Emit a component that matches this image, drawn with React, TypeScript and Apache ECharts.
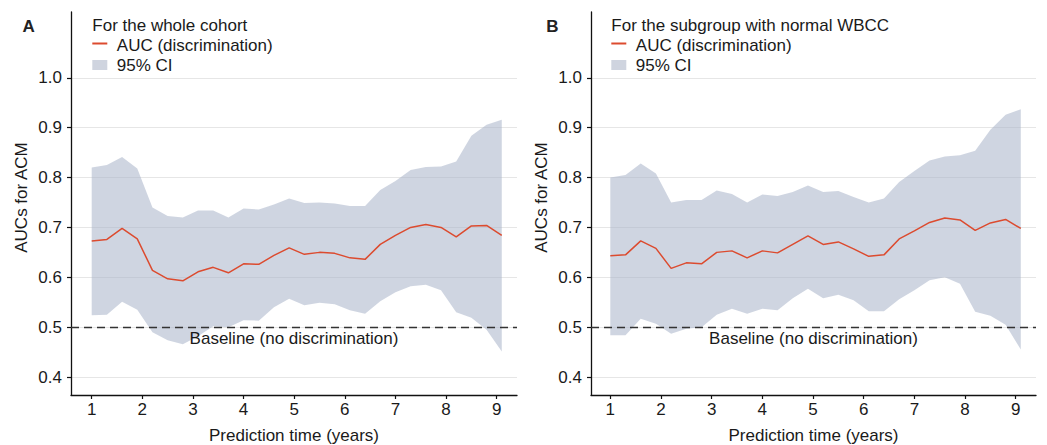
import React, { useEffect, useRef } from "react";
import * as echarts from "echarts";

const years = [1.0, 1.3, 1.6, 1.9, 2.2, 2.5, 2.8, 3.1, 3.4, 3.7, 4.0, 4.3, 4.6, 4.9, 5.2, 5.5, 5.8, 6.1, 6.4, 6.7, 7.0, 7.3, 7.6, 7.9, 8.2, 8.5, 8.8, 9.1];

const aucA = [0.673, 0.676, 0.698, 0.677, 0.614, 0.597, 0.593, 0.611, 0.620, 0.609, 0.627, 0.626, 0.644, 0.659, 0.646, 0.650, 0.648, 0.639, 0.636, 0.666, 0.684, 0.700, 0.706, 0.700, 0.681, 0.703, 0.704, 0.684];
const upperA = [0.820, 0.825, 0.841, 0.818, 0.740, 0.723, 0.720, 0.734, 0.734, 0.720, 0.738, 0.736, 0.746, 0.758, 0.749, 0.750, 0.748, 0.743, 0.743, 0.775, 0.793, 0.815, 0.821, 0.822, 0.832, 0.884, 0.906, 0.916];
const lowerA = [0.524, 0.525, 0.551, 0.535, 0.490, 0.474, 0.466, 0.482, 0.502, 0.500, 0.514, 0.513, 0.540, 0.557, 0.544, 0.549, 0.546, 0.534, 0.527, 0.552, 0.570, 0.582, 0.585, 0.574, 0.530, 0.519, 0.495, 0.451];

const aucB = [0.643, 0.645, 0.673, 0.658, 0.618, 0.629, 0.627, 0.650, 0.653, 0.639, 0.653, 0.649, 0.666, 0.683, 0.666, 0.671, 0.657, 0.642, 0.645, 0.677, 0.693, 0.710, 0.719, 0.715, 0.694, 0.709, 0.716, 0.698];
const upperB = [0.800, 0.805, 0.828, 0.808, 0.750, 0.755, 0.755, 0.774, 0.767, 0.750, 0.766, 0.763, 0.771, 0.784, 0.771, 0.773, 0.761, 0.750, 0.758, 0.791, 0.813, 0.834, 0.842, 0.845, 0.854, 0.896, 0.926, 0.937];
const lowerB = [0.484, 0.484, 0.517, 0.507, 0.487, 0.497, 0.500, 0.525, 0.537, 0.527, 0.537, 0.534, 0.558, 0.577, 0.558, 0.565, 0.554, 0.532, 0.532, 0.556, 0.574, 0.594, 0.600, 0.587, 0.531, 0.523, 0.505, 0.455];

const xTicks = [1, 2, 3, 4, 5, 6, 7, 8, 9];
const yTicks = [0.4, 0.5, 0.6, 0.7, 0.8, 0.9, 1.0];

const panelLetters = ["A", "B"];
const panelTitles = ["For the whole cohort", "For the subgroup with normal WBCC"];
const legendLine = "AUC (discrimination)";
const legendBand = "95% CI";
const yTitle = "AUCs for ACM";
const xTitle = "Prediction time (years)";
const baselineLabel = "Baseline (no discrimination)";
const baselineValue = 0.5;

const FONT = "'Liberation Sans', Arial, Helvetica, sans-serif";
const TXT = "#1a1a1a";
const RED = "#dc4b2f";
const BAND = "rgba(168,178,200,0.55)";

export default function App() {
  const ref = useRef<HTMLDivElement>(null);
  useEffect(() => {
    if (!ref.current) return;
    const chart = echarts.init(ref.current, null, { renderer: "svg" });

    const panels = [
      { left: 71, width: 446, xmin: 0.591, xmax: 9.401, auc: aucA, up: upperA, lo: lowerA },
      { left: 591, width: 445, xmin: 0.619, xmax: 9.4, auc: aucB, up: upperB, lo: lowerB },
    ];

    const grid = panels.map((p) => ({ left: p.left, width: p.width, top: 12, height: 383 }));
    const xAxis = panels.map((p, i) => ({
      type: "value",
      gridIndex: i,
      min: p.xmin,
      max: p.xmax,
      axisLine: { show: true, onZero: false, lineStyle: { color: "#111", width: 1.3 } },
      axisTick: { show: true, length: 4, customValues: xTicks, lineStyle: { color: "#111", width: 1.2 } },
      axisLabel: { customValues: xTicks, margin: 6, fontSize: 17, color: TXT, fontFamily: FONT },
      splitLine: { show: false },
    }));
    const yAxis = panels.map((p, i) => ({
      type: "value",
      gridIndex: i,
      min: 0.364,
      max: 1.132,
      axisLine: { show: true, lineStyle: { color: "#111", width: 1.3 } },
      axisTick: { show: true, length: 4, customValues: yTicks, lineStyle: { color: "#111", width: 1.2 } },
      axisLabel: {
        customValues: yTicks,
        margin: 9,
        fontSize: 17,
        color: TXT,
        fontFamily: FONT,
        formatter: (v: number) => v.toFixed(1),
      },
      splitLine: { show: true, lineStyle: { color: "#e6e6e6", width: 1 } },
    }));

    const series: any[] = [];
    panels.forEach((p, i) => {
      series.push({
        type: "custom",
        xAxisIndex: i,
        yAxisIndex: i,
        silent: true,
        z: 1,
        encode: { x: 0, y: [1, 2] },
        data: years.map((x, k) => [x, p.lo[k], p.up[k]]),
        renderItem: (params: any, api: any) => {
          if (params.dataIndex !== 0) return null;
          const pts: number[][] = [];
          for (let k = 0; k < years.length; k++) pts.push(api.coord([years[k], p.up[k]]));
          for (let k = years.length - 1; k >= 0; k--) pts.push(api.coord([years[k], p.lo[k]]));
          return { type: "polygon", shape: { points: pts }, style: { fill: BAND } };
        },
      });
      series.push({
        type: "line",
        xAxisIndex: i,
        yAxisIndex: i,
        symbol: "none",
        z: 3,
        lineStyle: { color: RED, width: 1.5 },
        data: years.map((x, k) => [x, p.auc[k]]),
        markLine: {
          silent: true,
          symbol: ["none", "none"],
          lineStyle: { type: [8, 5], color: "#333", width: 1.3 },
          label: {
            show: true,
            position: "insideMiddleBottom",
            distance: 3,
            formatter: baselineLabel,
            fontSize: 17,
            color: TXT,
            fontFamily: FONT,
          },
          data: [{ yAxis: baselineValue }],
        },
      });
    });

    const legendX = [92.3, 611.3];
    const graphic: any[] = [];
    panels.forEach((p, i) => {
      const lx = legendX[i];
      graphic.push(
        { type: "text", x: i === 0 ? 22.5 : 546.3, y: 26, style: { text: panelLetters[i], font: `bold 17px ${FONT}`, fill: "#222", verticalAlign: "middle" } },
        { type: "text", x: lx, y: 25, style: { text: panelTitles[i], font: `17px ${FONT}`, fill: TXT, verticalAlign: "middle" } },
        { type: "line", shape: { x1: lx, y1: 43.5, x2: lx + 15, y2: 43.5 }, style: { stroke: RED, lineWidth: 2 } },
        { type: "text", x: lx + 24.5, y: 45.5, style: { text: legendLine, font: `17px ${FONT}`, fill: TXT, verticalAlign: "middle" } },
        { type: "rect", shape: { x: lx, y: 60, width: 15, height: 10 }, style: { fill: "#cfd4df" } },
        { type: "text", x: lx + 24.5, y: 65, style: { text: legendBand, font: `17px ${FONT}`, fill: TXT, verticalAlign: "middle" } },
        { type: "text", x: p.left - 50, y: 197.5, rotation: Math.PI / 2, style: { text: yTitle, font: `17px ${FONT}`, fill: TXT, align: "center", verticalAlign: "middle" } },
        { type: "text", x: p.left + p.width / 2, y: 435, style: { text: xTitle, font: `17px ${FONT}`, fill: TXT, align: "center", verticalAlign: "middle" } }
      );
    });

    chart.setOption({
      animation: false,
      backgroundColor: "#ffffff",
      grid,
      xAxis,
      yAxis,
      series,
      graphic,
    });
    return () => chart.dispose();
  }, []);

  return <div ref={ref} style={{ position: "absolute", left: 0, top: 0, width: 1047, height: 445 }} />;
}
